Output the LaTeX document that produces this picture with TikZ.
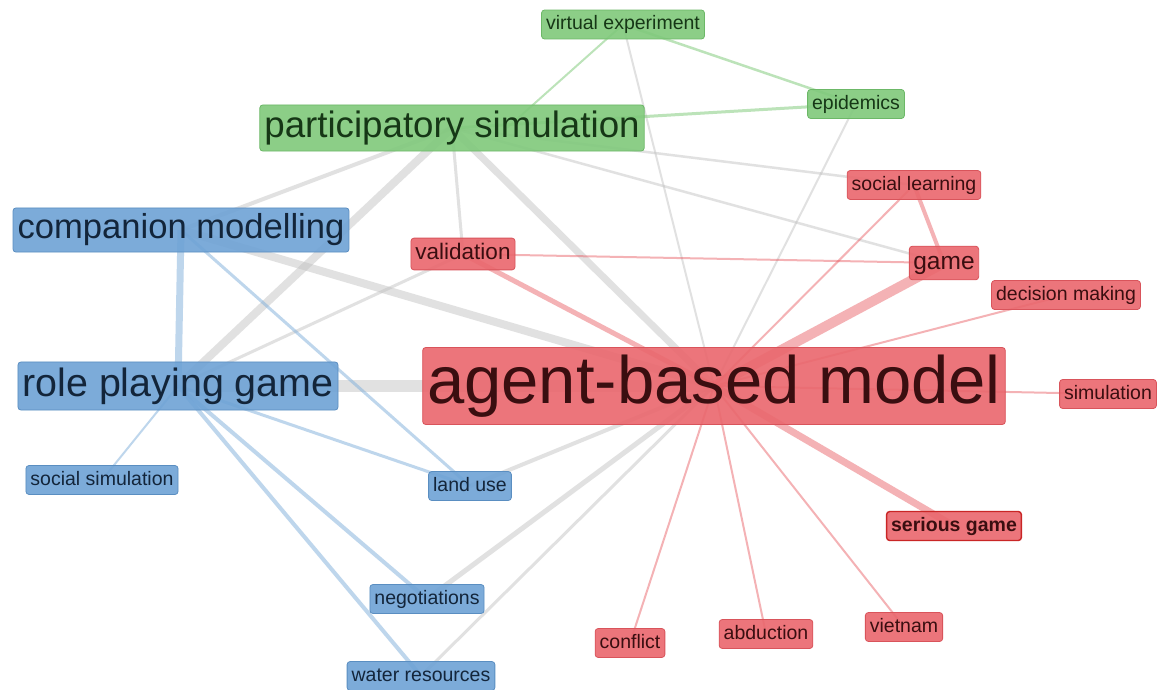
\documentclass[tikz,border=0pt]{standalone}
\usepackage{fontspec}
\setmainfont{Liberation Sans}
\pgfdeclarelayer{paper}
\pgfdeclarelayer{links}
\pgfsetlayers{paper,links,main}

% cluster colours
\definecolor{redfill}{HTML}{EA676D}
\definecolor{redline}{HTML}{D9545B}
\definecolor{redtext}{HTML}{3A0E10}
\definecolor{bluefill}{HTML}{6EA2D5}
\definecolor{blueline}{HTML}{5A8EC1}
\definecolor{bluetext}{HTML}{13253A}
\definecolor{greenfill}{HTML}{80C97B}
\definecolor{greenline}{HTML}{6CB867}
\definecolor{greentext}{HTML}{163716}
\definecolor{rededge}{HTML}{E8555C}
\definecolor{grayedge}{HTML}{BEBEBE}
\definecolor{blueedge}{HTML}{7FAEDB}
\definecolor{greenedge}{HTML}{86CC80}

\tikzset{
  kw/.style={rounded corners=3pt, inner xsep=4.5pt, inner ysep=5.3pt,
    fill opacity=0.9, text opacity=1, line width=0.8pt},
  fs/.style={font=\fontsize{#1}{#1}\selectfont,
    text height=#1*0.73pt, text depth=#1*0.21pt},
  fsb/.style={font=\fontsize{#1}{#1}\selectfont\bfseries,
    text height=#1*0.73pt, text depth=#1*0.21pt},
  redkw/.style={kw, fill=redfill, draw=redline, text=redtext},
  bluekw/.style={kw, fill=bluefill, draw=blueline, text=bluetext},
  greenkw/.style={kw, fill=greenfill, draw=greenline, text=greentext},
  redlink/.style={draw=rededge, draw opacity=0.45, line width=#1},
  graylink/.style={draw=grayedge, draw opacity=0.45, line width=#1},
  bluelink/.style={draw=blueedge, draw opacity=0.5, line width=#1},
  greenlink/.style={draw=greenedge, draw opacity=0.55, line width=#1},
}

\begin{document}
\begin{tikzpicture}[x=1pt, y=-1pt]
\begin{pgfonlayer}{paper}
\fill[white] (0,0) rectangle (1157,690);
\end{pgfonlayer}
\useasboundingbox (0,0) rectangle (1157,690);

% keywords
\node[greenkw, fs=19.5] (ve)  at (623,24.5) {virtual experiment};
\node[greenkw, fs=19.5] (ep)  at (856,104)  {epidemics};
\node[greenkw, fs=36.7, inner ysep=5.8pt] (ps) at (452,128) {participatory simulation};
\node[bluekw, fs=34.6, inner ysep=5.8pt] (cm) at (181,230) {companion modelling};
\node[bluekw, fs=39.4, inner ysep=5.5pt] (rpg) at (178,386) {role playing game};
\node[redkw, fs=22.5] (val) at (463,254) {validation};
\node[redkw, fs=19.5] (sl)  at (914,185) {social learning};
\node[redkw, fs=24.5, inner xsep=4pt] (game) at (944,263) {game};
\node[redkw, fs=19.5] (dm)  at (1066,295) {decision making};
\node[redkw, fs=67, inner ysep=7pt] (abm) at (714,386) {agent-based model};
\node[redkw, fs=19.5] (sim) at (1108,394) {simulation};
\node[bluekw, fs=19.5] (ss) at (102,480) {social simulation};
\node[bluekw, fs=19.5] (lu) at (470,486) {land use};
\node[redkw, fsb=19.5, draw=red!75!black!85, line width=1.4pt] (sg) at (954,526) {serious game};
\node[bluekw, fs=19.5] (neg) at (427,599) {negotiations};
\node[bluekw, fs=19.5] (wr)  at (421,676) {water resources};
\node[redkw, fs=19.5] (con) at (630,643) {conflict};
\node[redkw, fs=19.5] (abd) at (766,634) {abduction};
\node[redkw, fs=19.5] (vn)  at (904,627) {vietnam};

\begin{pgfonlayer}{links}
% links between clusters
\draw[graylink=12] (rpg.center) -- (abm.center);
\draw[graylink=8]  (cm.center)  -- (abm.center);
\draw[graylink=7]  (ps.center)  -- (abm.center);
\draw[graylink=8]  (ps.center)  -- (rpg.center);
\draw[graylink=4]  (ps.center)  -- (cm.center);
\draw[graylink=3]  (ps.center)  -- (val.center);
\draw[graylink=2.5](ps.center)  -- (sl.center);
\draw[graylink=2.5](ps.center)  -- (game.center);
\draw[graylink=2]  (ve.center)  -- (abm.center);
\draw[graylink=2]  (ep.center)  -- (abm.center);
\draw[graylink=3]  (rpg.center) -- (val.center);
\draw[graylink=4]  (lu.center)  -- (abm.center);
\draw[graylink=5]  (neg.center) -- (abm.center);
\draw[graylink=3]  (wr.center)  -- (abm.center);
% green cluster
\draw[greenlink=2]   (ve.center) -- ([xshift=55pt]ps.center);
\draw[greenlink=2.5] (ve.center) -- (ep.center);
\draw[greenlink=3]   (ps.center) -- (ep.center);
% blue cluster
\draw[bluelink=7] (cm.center)  -- (rpg.center);
\draw[bluelink=3] (cm.center)  -- (lu.center);
\draw[bluelink=3] (rpg.center) -- (lu.center);
\draw[bluelink=4] (rpg.center) -- (neg.center);
\draw[bluelink=4] (rpg.center) -- (wr.center);
\draw[bluelink=2] (rpg.center) -- (ss.center);
% red cluster
\draw[redlink=5]  (abm.center) -- (val.center);
\draw[redlink=10] (abm.center) -- (game.center);
\draw[redlink=2]  (abm.center) -- (sl.center);
\draw[redlink=2]  (abm.center) -- (dm.center);
\draw[redlink=2]  (abm.center) -- (sim.center);
\draw[redlink=7]  (abm.center) -- (sg.center);
\draw[redlink=2]  (abm.center) -- (con.center);
\draw[redlink=2]  (abm.center) -- (abd.center);
\draw[redlink=2]  (abm.center) -- (vn.center);
\draw[redlink=2]  (val.center) -- (game.center);
\draw[redlink=4]  (sl.center)  -- (game.center);
\end{pgfonlayer}
\end{tikzpicture}
\end{document}
